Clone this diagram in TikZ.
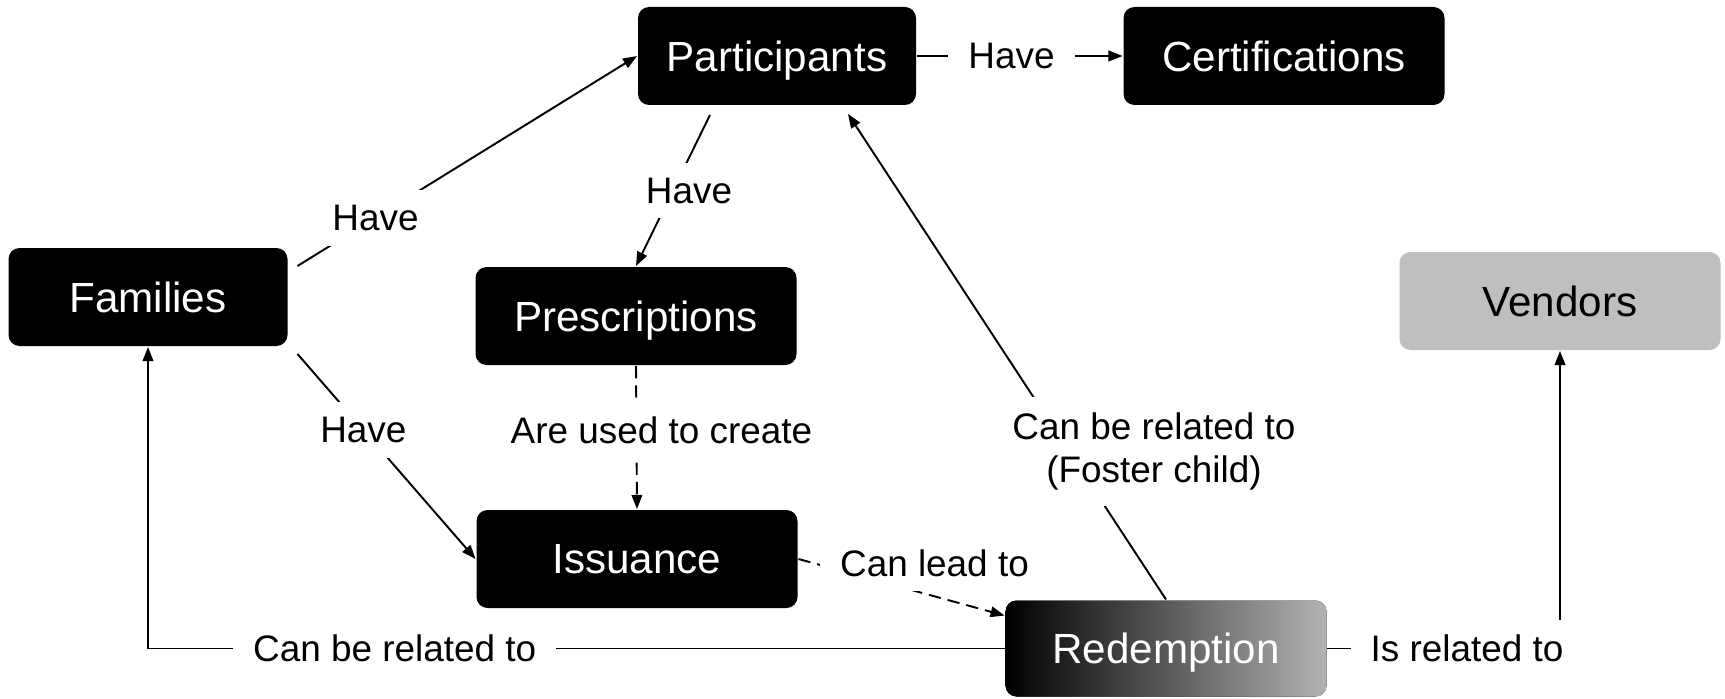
\documentclass[tikz,border=0pt]{standalone}
\usepackage{fontspec}
\setmainfont{Liberation Sans}
\usetikzlibrary{arrows.meta}

\begin{document}
\begin{tikzpicture}[
  box/.style={rounded corners=0.22cm, fill=black, text=white, minimum width=6.42cm, minimum height=1.96cm, text depth=0pt, font=\fontsize{24}{28}\selectfont},
  lbl/.style={fill=white, inner xsep=0.4cm, inner ysep=0.3cm, font=\fontsize{21}{25}\selectfont, align=center},
  dsh/.style={dash pattern=on 7pt off 4pt},
  >={Triangle[length=8pt,width=6pt]}, line width=1.1pt]
  \useasboundingbox (0,0) rectangle (34.5,13.96);
  \node[box, minimum width=5.56cm](0) at (15.54,12.84){Participants};
  \node[box](1) at (25.68,12.84){Certifications};
  \node[box, minimum width=5.58cm](2) at (2.96,8.02){Families};
  \node[box](3) at (12.72,7.64){Prescriptions};
  \node[box](4) at (12.74,2.78){Issuance};
  \node[box, fill=black!25, text=black](5) at (31.2,7.94){Vendors};
  \node[box, left color=black, right color=black!30, minimum height=1.92cm](6) at (23.32,0.99){Redemption};
  \draw[->] ([shift={(0.18,0.62)}]2.east) -- node[lbl, pos=0.23]{Have} (0.west);
  \draw[->] ([shift={(-1.34,-0.18)}]0.south) -- node[lbl, xshift=0.32cm]{Have} (3.north);
  \draw[->] (0.east) -- node[lbl, pos=0.46]{Have} (1.west);
  \draw[->] ([shift={(0.18,-0.14)}]2.south east) -- node[lbl, pos=0.37]{Have} (4.west);
  \draw[->, dsh] (3.south) -- node[lbl, pos=0.45, xshift=0.5cm]{Are used to create} (4.north);
  \draw[->, dsh] (4.east) -- node[lbl, pos=0.66, yshift=0.67cm]{Can lead to} ([yshift=-0.32cm]6.north west);
  \draw[->] (6.north) -- node[lbl, pos=0.305, xshift=1.7cm]{Can be related to\\(Foster child)} ([shift={(1.42,-0.16)}]0.south);
  \draw[->] (6.west) -| node[lbl, pos=0.356]{Can be related to} (2.south);
  \draw[->] (6.east) -| node[lbl, pos=0.3]{Is related to} (5.south);
\end{tikzpicture}
\end{document}
